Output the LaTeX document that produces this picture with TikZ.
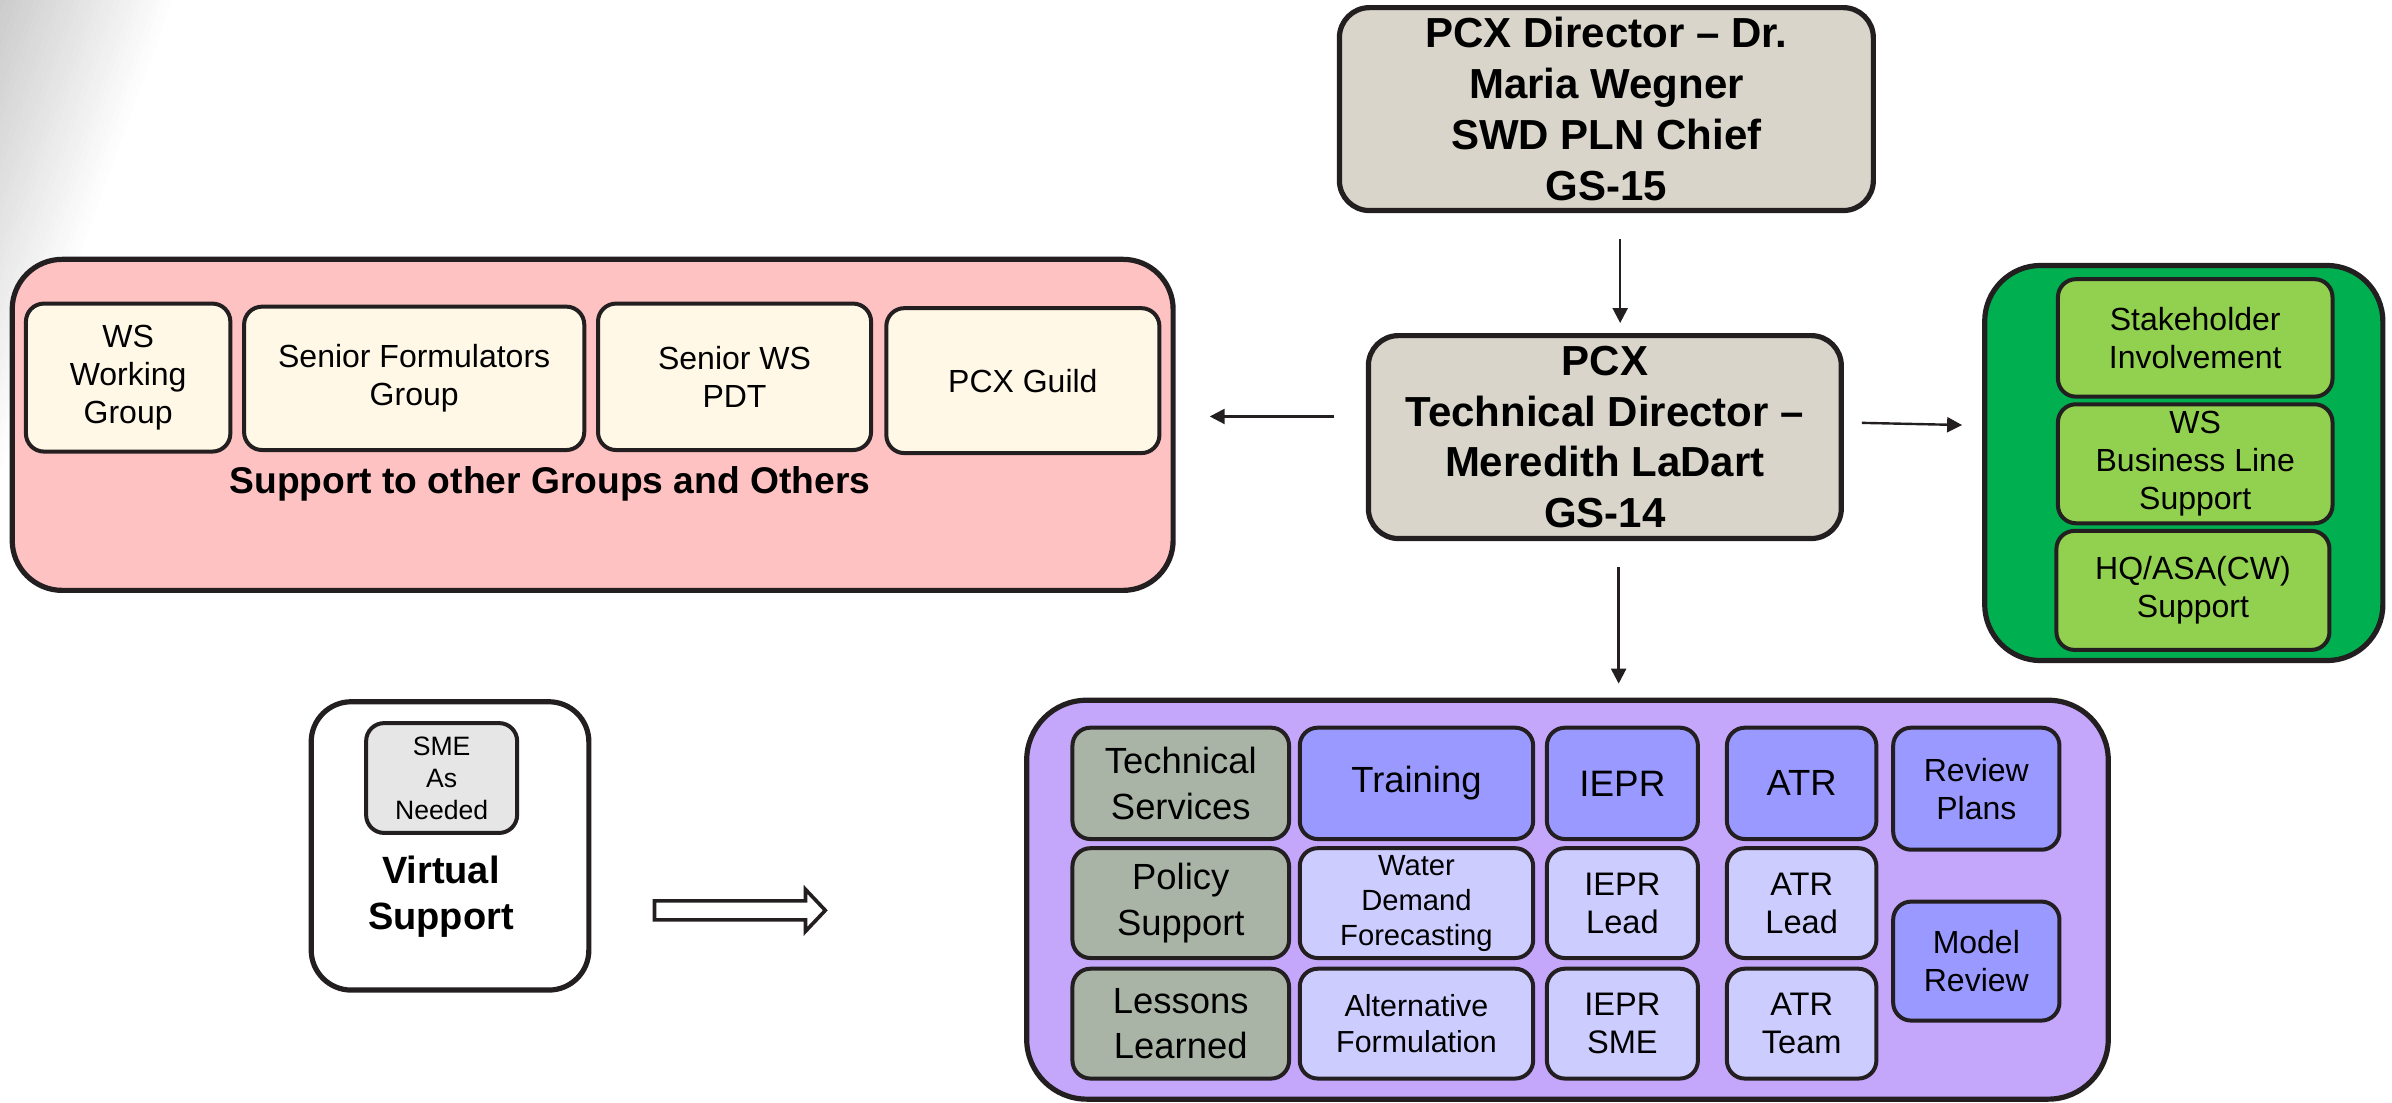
\documentclass[tikz,border=0pt]{standalone}
\usepackage{fontspec}
\setmainfont{Liberation Sans}
\usetikzlibrary{arrows.meta}
\definecolor{bd}{HTML}{231F20}
\definecolor{dirc}{HTML}{D9D5CA}
\definecolor{pinkc}{HTML}{FFC2C2}
\definecolor{creamc}{HTML}{FFF8E6}
\definecolor{greenc}{HTML}{00B050}
\definecolor{lgreenc}{HTML}{92D050}
\definecolor{purplec}{HTML}{C4A6FB}
\definecolor{bluec}{HTML}{9999FF}
\definecolor{lavc}{HTML}{CCCCFF}
\definecolor{sagec}{HTML}{A9B4A6}
\definecolor{smec}{HTML}{E6E6E6}
\newcommand{\fs}[2]{\fontsize{#1}{#2}\selectfont}
% name, x1, y1, x2, y2, style, text
\newcommand{\bx}[7]{\node[#6, minimum width={(#4-#2)*0.76275pt}, minimum height={(#5-#3)*0.76275pt}] (#1) at ({(#2+#4)/2},{(#3+#5)/2}) {#7};}
\tikzset{
  outer/.style={draw=bd, line width=2.6pt, rounded corners=25pt, inner sep=0pt},
  dirbox/.style={draw=bd, line width=2.6pt, rounded corners=15pt, fill=dirc, inner sep=0pt, align=center, font=\fs{21}{25.4}\bfseries},
  inbox/.style={draw=bd, line width=2pt, rounded corners=9pt, inner sep=0pt, align=center, text=black},
  arr/.style={draw=bd, line width=1.2pt, -{Triangle[length=7.5pt,width=7.5pt]}},
  pinkin/.style={inbox, fill=creamc, font=\fs{16}{19}},
  grin/.style={inbox, fill=lgreenc, font=\fs{16}{19}},
  sage/.style={inbox, fill=sagec, font=\fs{18.2}{22.9}},
  blu/.style={inbox, fill=bluec},
  lav/.style={inbox, fill=lavc},
}
\begin{document}
\begin{tikzpicture}[x=0.76275pt,y=-0.76275pt]
\useasboundingbox (0,0) rectangle (1568,722.4);
% background corner gradient (banded)
\foreach \i in {0,...,29}{
  \pgfmathsetmacro{\fa}{\i/30}
  \pgfmathsetmacro{\fb}{(\i+1.05)/30}
  \pgfmathsetmacro{\sh}{20*(1-\i/30)}
  \fill[black!\sh] (113*\fa,0) -- (113*\fb,0) -- (0,309*\fb) -- (0,309*\fa) -- cycle;
}

% directors
\bx{dir}{878}{5}{1228}{138}{dirbox}{PCX Director -- Dr.\\Maria Wegner\\SWD PLN Chief\\GS-15}
\bx{tech}{897}{220}{1207}{353}{dirbox}{PCX\\Technical Director --\\Meredith LaDart\\GS-14}

% pink group
\bx{pink}{8}{170}{769}{387}{outer, fill=pinkc}{}
\bx{wsg}{17}{199}{151}{296}{pinkin}{WS\\Working\\Group}
\bx{sfg}{160}{201}{383}{295}{pinkin}{Senior Formulators\\Group}
\bx{swp}{392}{199}{571}{295}{pinkin}{Senior WS\\PDT}
\bx{pcg}{581}{202}{760}{297}{pinkin}{PCX Guild}
\node[font=\fs{18.6}{22}\bfseries, inner sep=0pt] (supp) at (360.5,317) {Support to other Groups and Others};

% green group
\bx{green}{1301}{174}{1562}{433}{outer, fill=greenc, rounded corners=28pt}{}
\bx{stk}{1349}{183}{1529}{260}{grin}{Stakeholder\\Involvement}
\bx{wsb}{1349}{265}{1529}{343}{grin}{WS\\Business Line\\Support}
\bx{hqa}{1348}{348}{1527}{426}{grin}{HQ/ASA(CW)\\Support}

% virtual support
\bx{virt}{204}{460}{386}{649}{outer, fill=white, rounded corners=20pt}{}
\bx{sme}{240}{474}{339}{546}{inbox, fill=smec, font=\fs{13.3}{16}}{SME\\As\\Needed}
\node[font=\fs{19}{23}\bfseries, align=center, inner sep=0pt] (vs) at (289,588) {Virtual\\Support};

% hollow arrow
\draw[draw=bd, line width=1.8pt, fill=white, line join=miter]
  (429,590.5) -- (528,590.5) -- (528,583) -- (541,596.75) -- (528,610.5) -- (528,603) -- (429,603) -- cycle;

% purple group
\bx{purple}{673}{459}{1382}{720.5}{outer, fill=purplec, rounded corners=30pt}{}
\bx{ts}{703}{477}{845}{550}{sage}{Technical\\Services}
\bx{ps}{703}{556}{845}{628}{sage}{Policy\\Support}
\bx{ll}{703}{635}{845}{707}{sage}{Lessons\\Learned}
\bx{tr}{852}{477}{1005}{550}{blu, font=\fs{18.2}{22}}{Training}
\bx{wdf}{852}{556}{1005}{628}{lav, font=\fs{14.6}{17.5}}{Water\\Demand\\Forecasting}
\bx{af}{852}{635}{1005}{707}{lav, font=\fs{15.2}{17.8}}{Alternative\\Formulation}
\bx{iepr}{1014}{477}{1113}{550}{blu, font=\fs{18.4}{22}}{IEPR}
\bx{iel}{1014}{556}{1113}{628}{lav, font=\fs{16.3}{19}}{IEPR\\Lead}
\bx{ies}{1014}{635}{1113}{707}{lav, font=\fs{16.3}{19}}{IEPR\\SME}
\bx{atr}{1132}{477}{1230}{550}{blu, font=\fs{18.2}{22}}{ATR}
\bx{atl}{1132}{556}{1230}{628}{lav, font=\fs{16.3}{19}}{ATR\\Lead}
\bx{att}{1132}{635}{1230}{707}{lav, font=\fs{16.3}{19}}{ATR\\Team}
\bx{rp}{1241}{477}{1350}{557}{blu, font=\fs{16}{19}}{Review\\Plans}
\bx{mr}{1241}{591}{1350}{669}{blu, font=\fs{16}{19}}{Model\\Review}

% connectors
\draw[arr, shorten <=13pt, shorten >=5pt] ([xshift=6.9pt]dir.south) -- ([xshift=6.9pt]dir.south |- tech.north);
\draw[arr, shorten <=13pt, shorten >=7pt] ([xshift=6.9pt]tech.south) -- ([xshift=6.9pt]tech.south |- purple.north);
\draw[arr, shorten <=16pt, shorten >=17pt] ([yshift=10.3pt]tech.west) -- ([yshift=10.3pt]tech.west -| pink.east);
\draw[arr, shorten <=9pt, shorten >=10pt] ([yshift=7.3pt]tech.east) -- ([yshift=5.8pt]tech.east -| green.west);
\end{tikzpicture}
\end{document}
